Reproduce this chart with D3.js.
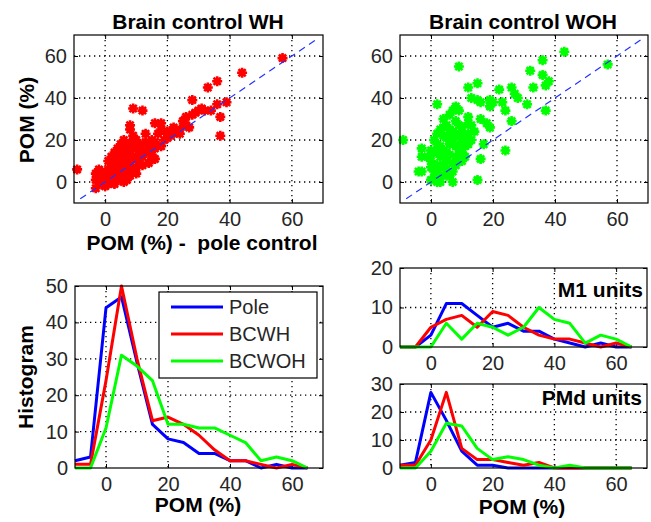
<!DOCTYPE html>
<html lang="en">
<head>
  <meta charset="UTF-8" />
  <title>POM histograms</title>
  <style>
    body { margin: 0; background: #fff; }
    svg { font-family: "Liberation Sans", Arial, sans-serif; display: block; }
    .tick text { font-size: 20px; fill: #262626; font-family: "Liberation Sans", Arial, sans-serif; }
    .lbl { font-size: 21px; font-weight: bold; fill: #000; }
    .leg { font-size: 20px; fill: #262626; }
  </style>
</head>
<body>
  <svg id="fig" width="651" height="522"></svg>
  <script src="https://cdn.jsdelivr.net/npm/d3@7"></script>
  <script>
    // histogram bin centres (POM %)
    const bins = [-10, -5, 0, 5, 10, 15, 20, 25, 30, 35, 40, 45, 50, 55, 60, 65];

    // all units
    const allPole  = [2, 3, 44, 47, 29, 12, 8, 7, 4, 4, 2, 2, 0, 1, 0, 0];
    const allBCWH  = [1, 1, 24, 50, 30, 13, 14, 12, 9, 5, 2, 2, 1, 0, 1, 0];
    const allBCWOH = [0, 0, 11, 31, 28, 24, 12, 12, 11, 11, 9, 7, 2, 3, 2, 0];

    // M1 units
    const m1Pole  = [0, 0, 3, 11, 11, 8, 5, 6, 4, 4, 2, 1, 0, 1, 0, 0];
    const m1BCWH  = [0, 0, 5, 7, 8, 5, 9, 8, 5, 3, 2, 2, 1, 0, 1, 0];
    const m1BCWOH = [0, 0, 0, 6, 2, 6, 5, 3, 5, 10, 7, 6, 1, 3, 2, 0];

    // PMd units
    const pmdPole  = [1, 2, 27, 17, 6, 1, 1, 0, 0, 0, 0, 0, 0, 0, 0, 0];
    const pmdBCWH  = [1, 1, 10, 27, 7, 3, 3, 2, 1, 2, 0, 0, 0, 0, 0, 0];
    const pmdBCWOH = [0, 0, 6, 16, 15, 7, 3, 4, 3, 1, 0, 1, 0, 0, 0, 0];

    const seriesNames = ["Pole", "BCWH", "BCWOH"];
    const seriesColors = ["#0000ff", "#ff0000", "#00ff00"];

    // scatter: POM pole control (x) vs brain control with hand (y)
    const whX = [-9, 57, 44, 33, 36, 28, 39, 36, 37, 37, 31, 32, 28, 26, 25, 27, 24, 22, 21, 20, 19, 18, 16, 13, 9, 12, 8, 8, 10, 16, 16, 15, 18, 19, 14, 12, 30, 29, 34, 26, 24, 20, 22,
      5, 4, 3, 8, 9, 11, 6, 4, 1, 2, -3, -3, -1, -3, 3, 5, 6, 1, 0, 11, 15, 7, 5, 2, 0, 1, 3, 4, 6, 7, 9, 10, 8, 2, 4, 6, 0, -1, 3, 7, 9, 10, 12, 11, 13, 2, 5, 8, -2, 1, 3, 7, 9, 6, 4, 12, 14, 10, 5, 7, -2, 3, 6, 8,
      17, 15, 9, 11, 13, 4, 2, -1, 6, 8, 10, 14, 16, 18, 7, 5];
    const whY = [6, 59, 52, 45, 48, 39, 38, 37, 31, 22, 35, 34, 32, 31, 29, 26, 23, 26, 22, 21, 24, 28, 28, 23, 35, 34, 27, 25, 20, 16, 11, 13, 17, 20, 18, 15, 34, 33, 34, 27, 25, 24, 23,
      18, 14, 11, 15, 12, 14, 7, 6, 4, 8, 4, 1, -1, -3, 1, 3, 0, -1, -2, 9, 11, 10, 10, 2, 1, 6, 5, 9, 12, 14, 17, 11, 8, 12, 16, 16, 4, 2, -1, 4, 6, 16, 12, 18, 15, 0, 1, 3, 6, 10, 14, 18, 20, 20, 3, 8, 14, 7, 5, 1, 0, 8, 9, 12,
      23, 20, 22, 17, 19, 12, 6, 5, 3, 6, 4, 9, 19, 25, 7, 13];

    // scatter: POM pole control (x) vs brain control without hand (y)
    const wohX = [-9, 43, 36, 57, 9, 32, 36, 38, 37, 15, 12, 22, 26, 27, 28, 33, 13, 15, 16, 19, 20, 19, 23, 24, 31, 37, 2, 8, 9, 7, 6, 26, 16, 18, 19, 12, 13, 10, 12, 4, 5, 3, 2, 17, 24, 16, 15, -3, -3, -4, -3, 0, 2, 6, 7, 10, 11,
      1, 2, 3, 4, 5, 6, 7, 3, 5, 8, 9, 0, 2, 4, 6, 8, 10, 1, 7, 3, 9, 5, 0, 2, 4, 6, 8, 10, 1, 3, 5, 7, 9, 11, 8, 6, 4, 2, 12, -1, 0, 3, 5, 1, 7, 9, 11, 13, 14, 10, 12, 8];
    const wohY = [20, 62, 58, 56, 55, 53, 51, 48, 46, 47, 45, 44, 45, 42, 40, 45, 40, 39, 38, 39, 38, 36, 38, 34, 37, 34, 37, 36, 34, 34, 32, 29, 30, 28, 26, 31, 27, 23, 23, 30, 27, 25, 23, 18, 15, 11, 1, 16, 12, 5, 5, 1, 0, 3, 0, 14, 17,
      5, 8, 12, 15, 10, 18, 20, 3, 6, 12, 16, 10, 18, 22, 25, 8, 19, 14, 5, 0, 22, 14, 7, 4, 8, 13, 17, 10, 20, 17, 21, 24, 27, 21, 29, 22, 26, 15, 18, 12, 15, 7, 3, 2, 9, 13, 12, 20, 24, 26, 28, 23];

    const scatterTicks = [0, 20, 40, 60];
    const histXTicks = [0, 20, 40, 60];
    const allYTicks = [0, 10, 20, 30, 40, 50];
    const m1YTicks = [0, 10, 20];
    const pmdYTicks = [0, 10, 20, 30];

    const svg = d3.select("#fig");

    // MATLAB-like axes: box, dotted grid, inward ticks on all sides
    function makeAxes(p) {
      const x = d3.scaleLinear().domain(p.xDomain).range([p.left, p.right]);
      const y = d3.scaleLinear().domain(p.yDomain).range([p.bottom, p.top]);
      const g = svg.append("g");

      const grid = g.append("g")
        .attr("stroke", "#000")
        .attr("stroke-width", 1.3)
        .attr("stroke-dasharray", "1.3,3.7");
      p.xTicks.forEach(function(t) {
        if (t <= p.xDomain[0] || t >= p.xDomain[1]) return;
        grid.append("line").attr("x1", x(t)).attr("x2", x(t)).attr("y1", p.top).attr("y2", p.bottom);
      });
      p.yTicks.forEach(function(t) {
        if (t <= p.yDomain[0] || t >= p.yDomain[1]) return;
        grid.append("line").attr("y1", y(t)).attr("y2", y(t)).attr("x1", p.left).attr("x2", p.right);
      });

      g.append("g")
        .attr("transform", "translate(0," + p.bottom + ")")
        .call(d3.axisBottom(x).tickValues(p.xTicks).tickSizeInner(-4).tickSizeOuter(0).tickPadding(9));
      g.append("g")
        .attr("transform", "translate(" + p.left + ",0)")
        .call(d3.axisLeft(y).tickValues(p.yTicks).tickSizeInner(-4).tickSizeOuter(0).tickPadding(7));
      g.append("g")
        .attr("transform", "translate(0," + p.top + ")")
        .call(d3.axisTop(x).tickValues(p.xTicks).tickSizeInner(-4).tickSizeOuter(0).tickFormat(""));
      g.append("g")
        .attr("transform", "translate(" + p.right + ",0)")
        .call(d3.axisRight(y).tickValues(p.yTicks).tickSizeInner(-4).tickSizeOuter(0).tickFormat(""));

      g.selectAll(".domain").remove();
      g.selectAll(".tick line").attr("stroke", "#000");
      g.selectAll(".tick text").attr("font-size", 20).attr("fill", "#262626");

      const plot = svg.append("g");
      svg.append("rect")
        .attr("x", p.left).attr("y", p.top)
        .attr("width", p.right - p.left).attr("height", p.bottom - p.top)
        .attr("fill", "none").attr("stroke", "#000").attr("stroke-width", 1.2);
      return { x: x, y: y, plot: plot };
    }

    function starPath(r) {
      const d = r * 0.72;
      return "M" + (-r) + ",0L" + r + ",0M0," + (-r) + "L0," + r +
        "M" + (-d) + "," + (-d) + "L" + d + "," + d + "M" + (-d) + "," + d + "L" + d + "," + (-d);
    }

    function scatterPanel(p, xs, ys, color) {
      const a = makeAxes(p);
      const pts = xs.map(function(v, i) { return { x: v, y: ys[i] }; });
      const marks = a.plot.selectAll("g.pt")
        .data(pts)
        .enter()
        .append("g")
        .attr("class", "pt")
        .attr("transform", function(d) { return "translate(" + a.x(d.x) + "," + a.y(d.y) + ")"; });
      marks.append("circle").attr("r", 3.6).attr("fill", color);
      marks.append("path").attr("d", starPath(5))
        .attr("stroke", color).attr("stroke-width", 2.6).attr("fill", "none");

      // unity line
      a.plot.append("line")
        .attr("x1", a.x(-8)).attr("y1", a.y(-8))
        .attr("x2", a.x(68)).attr("y2", a.y(68))
        .attr("stroke", "#2233ff").attr("stroke-width", 1.2)
        .attr("stroke-dasharray", "7,5");
      return a;
    }

    function histPanel(p, series) {
      const a = makeAxes(p);
      const line = d3.line()
        .x(function(d, i) { return a.x(bins[i]); })
        .y(function(d) { return a.y(d); });
      series.forEach(function(s, k) {
        a.plot.append("path")
          .datum(s)
          .attr("d", line)
          .attr("fill", "none")
          .attr("stroke", seriesColors[k])
          .attr("stroke-width", 3)
          .attr("stroke-linejoin", "round");
      });
      return a;
    }

    // top left
    scatterPanel({ left: 74, right: 323, top: 35, bottom: 203, xDomain: [-10, 70], yDomain: [-10, 70],
      xTicks: scatterTicks, yTicks: scatterTicks }, whX, whY, "#ff0000");
    svg.append("text").attr("class", "lbl").attr("x", 198).attr("y", 29).attr("text-anchor", "middle").text("Brain control WH");
    svg.append("text").attr("class", "lbl").attr("x", 202).attr("y", 250).attr("text-anchor", "middle").attr("xml:space", "preserve").text("POM (%) -  pole control");
    svg.append("text").attr("class", "lbl").attr("transform", "translate(34,120) rotate(-90)").attr("text-anchor", "middle").text("POM (%)");

    // top right
    scatterPanel({ left: 400, right: 648, top: 35, bottom: 203, xDomain: [-10, 70], yDomain: [-10, 70],
      xTicks: scatterTicks, yTicks: scatterTicks }, wohX, wohY, "#00ff00");
    svg.append("text").attr("class", "lbl").attr("x", 523).attr("y", 29).attr("text-anchor", "middle").text("Brain control WOH");

    // bottom left: all units
    histPanel({ left: 75, right: 323, top: 286, bottom: 468, xDomain: [-10, 70], yDomain: [0, 50],
      xTicks: histXTicks, yTicks: allYTicks }, [allPole, allBCWH, allBCWOH]);
    svg.append("text").attr("class", "lbl").attr("x", 198).attr("y", 512).attr("text-anchor", "middle").text("POM (%)");
    svg.append("text").attr("class", "lbl").attr("transform", "translate(33,377) rotate(-90)").attr("text-anchor", "middle").text("Histogram");

    // legend
    const legend = svg.append("g");
    legend.append("rect").attr("x", 159).attr("y", 292).attr("width", 158).attr("height", 86)
      .attr("fill", "#fff").attr("stroke", "#000").attr("stroke-width", 1.2);
    seriesNames.forEach(function(name, i) {
      const ly = 307 + i * 27;
      legend.append("line").attr("x1", 171).attr("x2", 223).attr("y1", ly).attr("y2", ly)
        .attr("stroke", seriesColors[i]).attr("stroke-width", 3);
      legend.append("text").attr("class", "leg").attr("x", 229).attr("y", ly + 7).text(name);
    });

    // M1 units
    histPanel({ left: 400, right: 647, top: 268, bottom: 347, xDomain: [-10, 70], yDomain: [0, 20],
      xTicks: histXTicks, yTicks: m1YTicks }, [m1Pole, m1BCWH, m1BCWOH]);
    svg.append("text").attr("class", "lbl").attr("x", 643).attr("y", 297).attr("text-anchor", "end").text("M1 units");

    // PMd units
    histPanel({ left: 400, right: 647, top: 384, bottom: 468, xDomain: [-10, 70], yDomain: [0, 30],
      xTicks: histXTicks, yTicks: pmdYTicks }, [pmdPole, pmdBCWH, pmdBCWOH]);
    svg.append("text").attr("class", "lbl").attr("x", 642).attr("y", 405).attr("text-anchor", "end").text("PMd units");
    svg.append("text").attr("class", "lbl").attr("x", 522).attr("y", 514).attr("text-anchor", "middle").text("POM (%)");
  </script>
</body>
</html>
